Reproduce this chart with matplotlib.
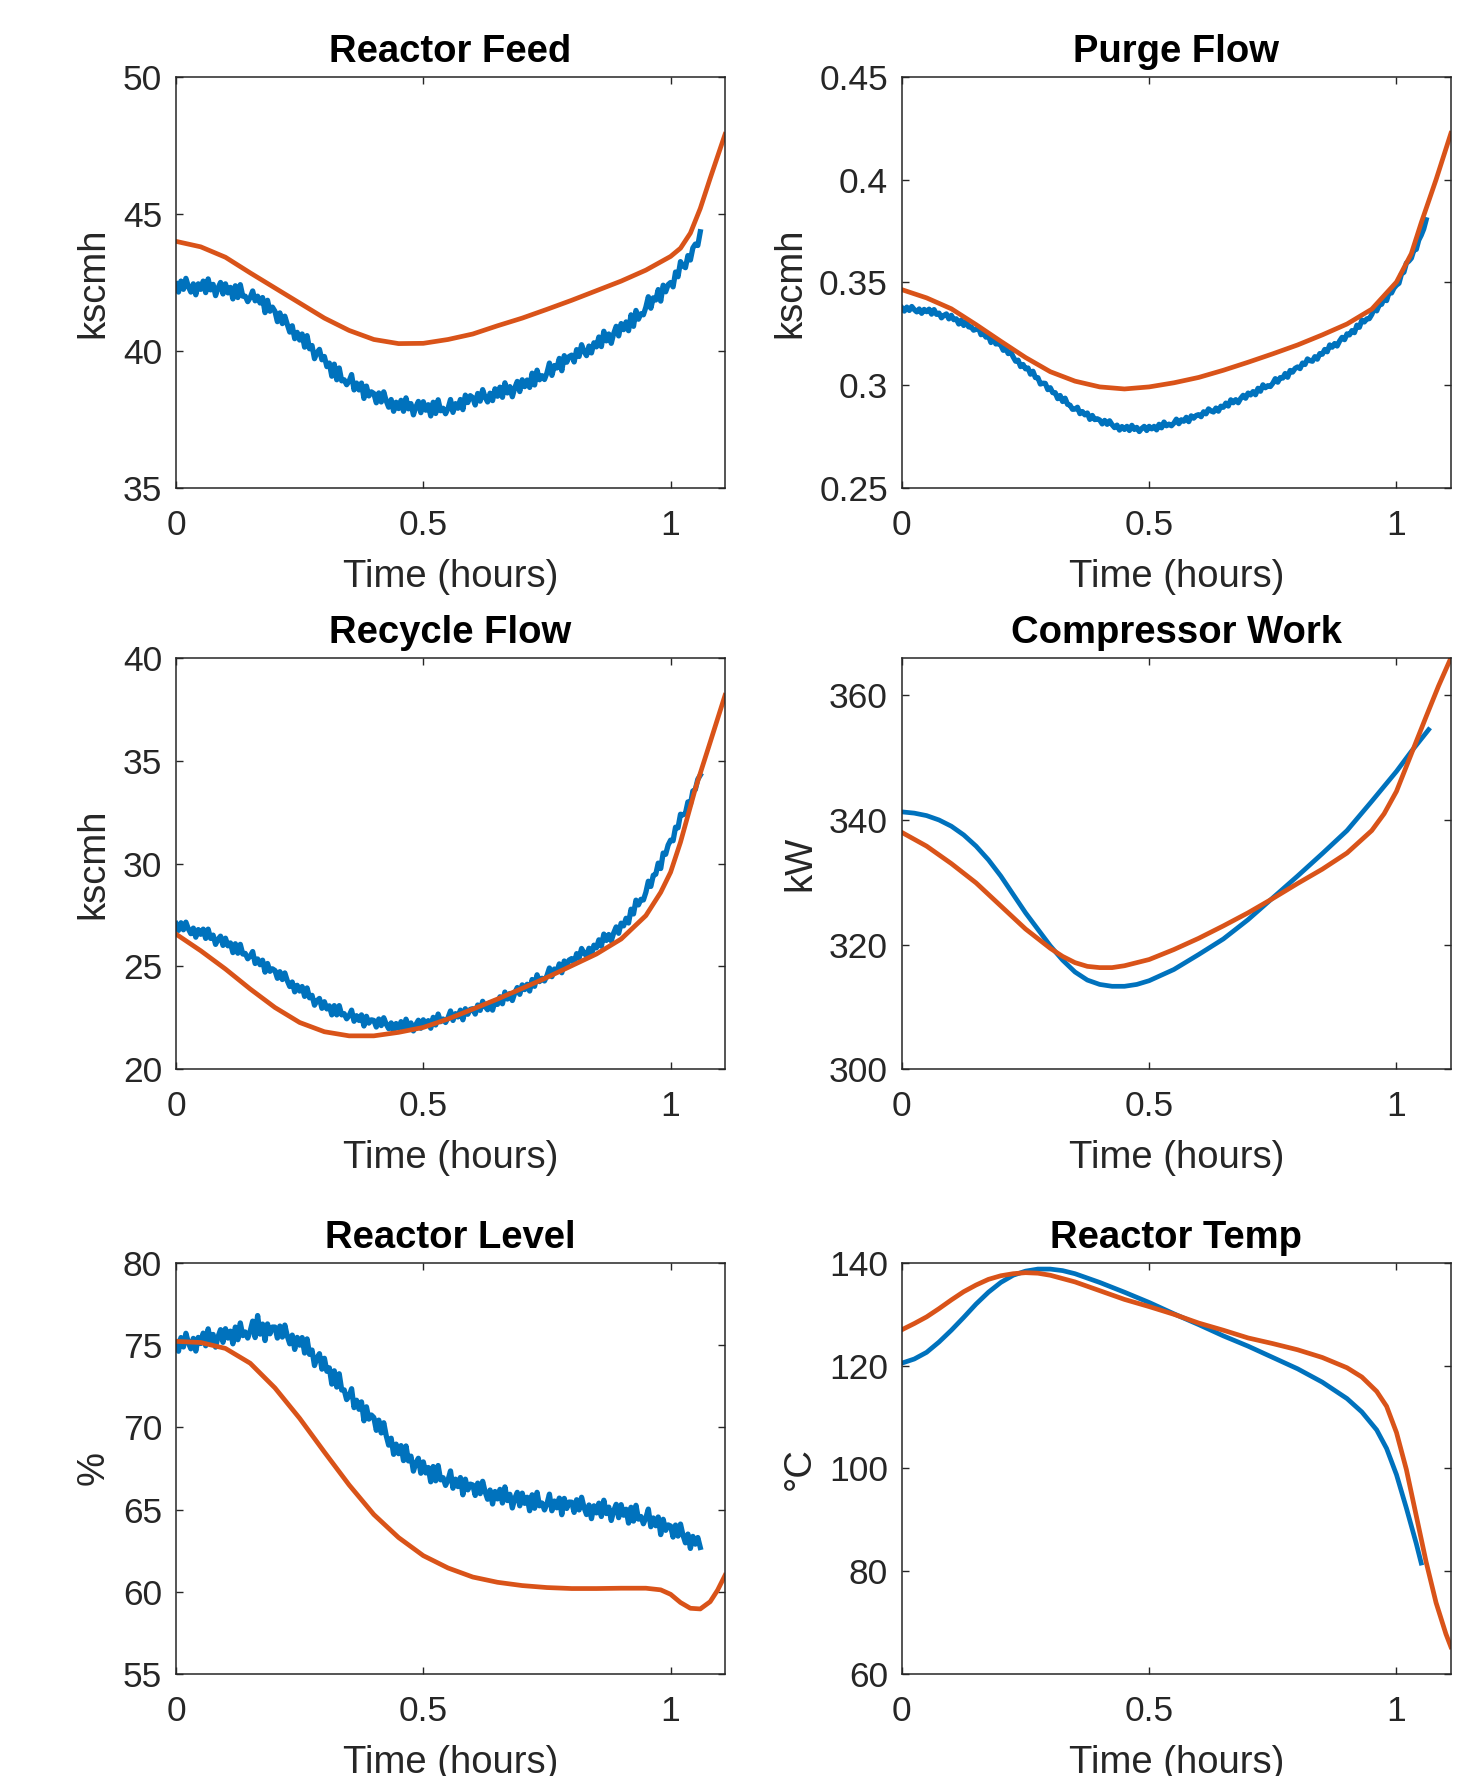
import numpy as np
import matplotlib.pyplot as plt

OUTPUT_PATH = "out.png"

BLUE = "#0072BD"
ORANGE = "#D95319"
TEXT = "#262626"

# measured (blue) series sampled every 0.005 h from 0 to 1.06 h
t_meas = np.round(np.arange(213) * 0.005, 3)

feed_meas = [
    42.45, 42.15, 42.55, 42.25, 42.65, 42.35, 42.15, 42.45, 42.05, 42.45,
    42.25, 42.55, 42.13, 42.63, 42.23, 42.43, 42.02, 42.30, 42.50, 42.08,
    42.45, 42.12, 42.32, 41.90, 42.38, 41.95, 42.42, 42.00, 42.00, 41.80,
    41.95, 42.19, 41.83, 42.00, 41.75, 41.95, 41.40, 41.85, 41.45, 41.60,
    41.45, 41.07, 41.39, 41.00, 41.27, 40.97, 40.69, 40.92, 40.45, 40.68,
    40.40, 40.62, 40.14, 40.56, 40.08, 40.20, 39.72, 39.94, 40.06, 39.68,
    39.80, 39.43, 39.56, 39.08, 39.52, 38.95, 39.38, 38.91, 38.95, 38.77,
    38.90, 39.14, 38.58, 38.83, 38.58, 38.83, 38.27, 38.72, 38.36, 38.51,
    38.45, 38.11, 38.47, 38.14, 38.51, 38.18, 37.95, 38.23, 37.80, 38.13,
    37.90, 38.20, 37.80, 38.29, 37.89, 38.08, 37.67, 37.96, 38.16, 37.75,
    38.15, 37.84, 38.04, 37.63, 38.13, 37.72, 38.22, 37.82, 37.91, 37.71,
    37.90, 38.23, 37.76, 38.08, 37.91, 38.23, 37.86, 38.39, 38.12, 38.37,
    38.30, 38.03, 38.45, 38.17, 38.59, 38.31, 38.14, 38.46, 38.19, 38.62,
    38.35, 38.68, 38.31, 38.84, 38.47, 38.70, 38.33, 38.66, 38.89, 38.52,
    38.95, 38.70, 38.94, 38.67, 39.19, 38.76, 39.30, 38.95, 39.10, 38.96,
    39.20, 39.56, 39.11, 39.47, 39.38, 39.73, 39.28, 39.83, 39.59, 39.80,
    39.85, 39.60, 40.05, 39.80, 40.23, 39.98, 39.83, 40.18, 39.93, 40.30,
    40.15, 40.51, 40.16, 40.72, 40.37, 40.62, 40.28, 40.64, 40.90, 40.55,
    41.00, 40.78, 41.06, 40.74, 41.32, 40.90, 41.48, 41.16, 41.36, 41.32,
    41.60, 41.98, 41.56, 41.94, 41.86, 42.24, 41.82, 42.40, 42.16, 42.42,
    42.50, 42.34, 42.88, 42.71, 43.26, 43.10, 43.04, 43.48, 43.32, 43.76,
    43.90, 43.85, 44.35,
]

purge_meas = [
    0.3377, 0.3361, 0.3380, 0.3364, 0.3383, 0.3368, 0.3357, 0.3371, 0.3350, 0.3369,
    0.3358, 0.3370, 0.3346, 0.3368, 0.3345, 0.3351, 0.3328, 0.3340, 0.3347, 0.3323,
    0.3340, 0.3319, 0.3323, 0.3298, 0.3317, 0.3291, 0.3310, 0.3284, 0.3284, 0.3268,
    0.3272, 0.3279, 0.3246, 0.3252, 0.3234, 0.3241, 0.3208, 0.3225, 0.3201, 0.3203,
    0.3195, 0.3170, 0.3179, 0.3154, 0.3163, 0.3138, 0.3117, 0.3122, 0.3091, 0.3101,
    0.3080, 0.3084, 0.3054, 0.3068, 0.3037, 0.3037, 0.3006, 0.3010, 0.3009, 0.2979,
    0.2988, 0.2964, 0.2964, 0.2935, 0.2950, 0.2921, 0.2937, 0.2907, 0.2903, 0.2883,
    0.2884, 0.2893, 0.2862, 0.2872, 0.2856, 0.2865, 0.2834, 0.2853, 0.2833, 0.2837,
    0.2831, 0.2812, 0.2829, 0.2810, 0.2827, 0.2808, 0.2794, 0.2806, 0.2782, 0.2799,
    0.2785, 0.2800, 0.2780, 0.2805, 0.2785, 0.2795, 0.2775, 0.2790, 0.2800, 0.2780,
    0.2800, 0.2788, 0.2800, 0.2783, 0.2810, 0.2793, 0.2821, 0.2803, 0.2811, 0.2803,
    0.2816, 0.2835, 0.2813, 0.2832, 0.2825, 0.2844, 0.2823, 0.2851, 0.2840, 0.2853,
    0.2857, 0.2847, 0.2871, 0.2861, 0.2885, 0.2875, 0.2870, 0.2889, 0.2874, 0.2898,
    0.2893, 0.2913, 0.2899, 0.2929, 0.2915, 0.2930, 0.2915, 0.2936, 0.2951, 0.2937,
    0.2962, 0.2953, 0.2969, 0.2954, 0.2985, 0.2971, 0.3002, 0.2988, 0.2998, 0.2994,
    0.3010, 0.3032, 0.3015, 0.3037, 0.3035, 0.3057, 0.3039, 0.3072, 0.3064, 0.3082,
    0.3089, 0.3081, 0.3108, 0.3101, 0.3128, 0.3120, 0.3117, 0.3139, 0.3127, 0.3154,
    0.3151, 0.3174, 0.3163, 0.3196, 0.3185, 0.3203, 0.3191, 0.3215, 0.3233, 0.3222,
    0.3250, 0.3245, 0.3266, 0.3256, 0.3292, 0.3282, 0.3317, 0.3308, 0.3323, 0.3324,
    0.3344, 0.3373, 0.3362, 0.3390, 0.3394, 0.3423, 0.3412, 0.3451, 0.3449, 0.3473,
    0.3487, 0.3496, 0.3541, 0.3550, 0.3594, 0.3604, 0.3618, 0.3657, 0.3661, 0.3706,
    0.3730, 0.3760, 0.3805,
]

recycle_meas = [
    27.08, 26.75, 27.12, 26.78, 27.15, 26.82, 26.59, 26.86, 26.42, 26.79,
    26.56, 26.81, 26.36, 26.81, 26.36, 26.52, 26.07, 26.32, 26.47, 26.02,
    26.37, 26.00, 26.14, 25.67, 26.10, 25.64, 26.07, 25.60, 25.63, 25.37,
    25.50, 25.72, 25.14, 25.36, 25.08, 25.30, 24.72, 25.14, 24.76, 24.88,
    24.80, 24.42, 24.74, 24.36, 24.68, 24.30, 24.02, 24.24, 23.76, 24.08,
    23.80, 24.02, 23.54, 23.95, 23.47, 23.59, 23.11, 23.33, 23.44, 22.96,
    23.28, 22.93, 23.08, 22.64, 23.09, 22.64, 23.09, 22.64, 22.70, 22.45,
    22.60, 22.87, 22.33, 22.60, 22.37, 22.64, 22.10, 22.57, 22.24, 22.40,
    22.37, 22.05, 22.44, 22.12, 22.50, 22.19, 21.97, 22.25, 21.83, 22.22,
    22.00, 22.31, 21.92, 22.43, 22.04, 22.25, 21.86, 22.17, 22.38, 21.99,
    22.40, 22.13, 22.36, 21.99, 22.52, 22.15, 22.68, 22.31, 22.44, 22.27,
    22.50, 22.83, 22.37, 22.70, 22.54, 22.87, 22.40, 22.94, 22.67, 22.91,
    22.94, 22.68, 23.12, 22.86, 23.30, 23.05, 22.89, 23.23, 22.87, 23.31,
    23.15, 23.52, 23.18, 23.75, 23.41, 23.68, 23.34, 23.71, 23.97, 23.64,
    24.10, 23.87, 24.13, 23.80, 24.36, 24.03, 24.59, 24.26, 24.42, 24.29,
    24.55, 24.92, 24.50, 24.87, 24.74, 25.12, 24.69, 25.26, 25.03, 25.31,
    25.38, 25.15, 25.62, 25.40, 25.87, 25.64, 25.51, 25.88, 25.56, 26.03,
    25.90, 26.29, 25.98, 26.57, 26.26, 26.55, 26.24, 26.63, 26.92, 26.61,
    27.10, 26.97, 27.34, 27.11, 27.78, 27.55, 28.22, 27.99, 28.26, 28.23,
    28.60, 29.14, 28.89, 29.43, 29.48, 30.02, 29.76, 30.51, 30.45, 30.90,
    31.14, 31.11, 31.77, 31.74, 32.40, 32.37, 32.44, 33.00, 32.87, 33.53,
    33.60, 34.10, 34.30,
]

level_meas = [
    75.20, 74.63, 75.46, 74.89, 75.72, 75.15, 74.78, 75.41, 74.64, 75.47,
    75.10, 75.73, 74.96, 75.99, 75.22, 75.65, 74.88, 75.51, 75.94, 75.17,
    76.00, 75.43, 75.85, 75.08, 76.10, 75.33, 76.35, 75.58, 75.80, 75.43,
    75.85, 76.46, 75.46, 76.80, 75.67, 76.28, 75.28, 76.29, 75.69, 76.10,
    76.10, 75.43, 76.16, 75.49, 76.22, 75.55, 75.08, 75.61, 74.74, 75.47,
    75.00, 75.46, 74.52, 75.38, 74.44, 74.70, 73.76, 74.22, 74.48, 73.54,
    74.20, 73.41, 73.62, 72.63, 73.44, 72.45, 73.26, 72.27, 72.28, 71.69,
    71.90, 72.35, 71.20, 71.65, 71.10, 71.55, 70.40, 71.25, 70.50, 70.75,
    70.60, 69.82, 70.44, 69.66, 70.28, 69.50, 68.92, 69.34, 68.36, 68.98,
    68.40, 68.89, 67.98, 68.87, 67.96, 68.25, 67.34, 67.83, 68.12, 67.21,
    67.90, 67.23, 67.56, 66.69, 67.62, 66.75, 67.68, 66.81, 66.94, 66.47,
    66.80, 67.35, 66.30, 66.85, 66.40, 66.95, 65.90, 66.85, 66.20, 66.55,
    66.50, 65.86, 66.61, 65.97, 66.72, 66.08, 65.63, 66.19, 65.34, 66.10,
    65.65, 66.23, 65.40, 66.38, 65.55, 65.93, 65.10, 65.68, 66.05, 65.23,
    66.00, 65.38, 65.75, 64.93, 65.90, 65.08, 66.05, 65.23, 65.40, 64.98,
    65.35, 65.94, 64.93, 65.52, 65.11, 65.70, 64.69, 65.68, 65.07, 65.46,
    65.45, 64.83, 65.60, 64.98, 65.75, 65.13, 64.70, 65.28, 64.45, 65.23,
    64.80, 65.39, 64.58, 65.57, 64.76, 65.15, 64.34, 64.93, 65.32, 64.51,
    65.30, 64.66, 65.02, 64.18, 65.14, 64.30, 65.26, 64.42, 64.58, 64.14,
    64.50, 65.03, 63.96, 64.49, 64.02, 64.55, 63.48, 64.41, 63.74, 64.07,
    64.00, 63.33, 64.06, 63.39, 64.12, 63.45, 62.98, 63.51, 62.64, 63.37,
    62.90, 63.30, 62.70,
]

# smoother measured series
t_comp_meas = [0, 0.025, 0.05, 0.075, 0.1, 0.125, 0.15, 0.175, 0.2, 0.25, 0.3, 0.325, 0.35, 0.375, 0.4,
               0.425, 0.45, 0.475, 0.5, 0.55, 0.6, 0.65, 0.7, 0.75, 0.8, 0.85, 0.9, 0.95, 1.0, 1.03, 1.065]
comp_meas = [341.3, 341.1, 340.7, 340.0, 339.0, 337.6, 335.8, 333.6, 331.0, 325.1, 319.8, 317.5, 315.6, 314.3, 313.6,
             313.3, 313.3, 313.6, 314.2, 316.0, 318.4, 320.9, 324.0, 327.5, 331.0, 334.6, 338.3, 343.0, 347.8, 351.0, 354.5]

t_temp_meas = [0, 0.025, 0.05, 0.075, 0.1, 0.125, 0.15, 0.175, 0.2, 0.225, 0.25, 0.275, 0.3, 0.325, 0.35,
               0.4, 0.45, 0.5, 0.55, 0.6, 0.65, 0.7, 0.75, 0.8, 0.85, 0.9, 0.93, 0.96, 0.98, 1.0,
               1.02, 1.04, 1.05]
temp_meas = [120.5, 121.3, 122.6, 124.6, 126.9, 129.4, 132.0, 134.3, 136.2, 137.6, 138.4, 138.8, 138.8, 138.5, 137.9,
             136.2, 134.3, 132.3, 130.1, 128.0, 125.8, 123.8, 121.6, 119.4, 116.8, 113.6, 111.0, 107.5, 103.9, 98.8,
             92.3, 85.4, 81.6]

# model (orange) series
t_feed_mod = [0, 0.05, 0.1, 0.15, 0.2, 0.25, 0.3, 0.35, 0.4, 0.45, 0.5, 0.55, 0.6, 0.65, 0.7,
              0.75, 0.8, 0.85, 0.9, 0.95, 0.98, 1.0, 1.02, 1.04, 1.06, 1.08, 1.11]
feed_mod = [44.0, 43.8, 43.42, 42.85, 42.3, 41.75, 41.2, 40.75, 40.42, 40.27, 40.28, 40.42, 40.62, 40.92, 41.2,
            41.52, 41.85, 42.2, 42.55, 42.95, 43.25, 43.45, 43.75, 44.3, 45.2, 46.3, 47.9]

t_purge_mod = [0, 0.05, 0.1, 0.15, 0.2, 0.25, 0.3, 0.35, 0.4, 0.45, 0.5, 0.55, 0.6, 0.65, 0.7,
               0.75, 0.8, 0.85, 0.9, 0.95, 1.0, 1.03, 1.05, 1.08, 1.11]
purge_mod = [0.3465, 0.3425, 0.3372, 0.3295, 0.3214, 0.3135, 0.3066, 0.302, 0.2992, 0.2982, 0.2992, 0.3012,
             0.3038, 0.3073, 0.3112, 0.3153, 0.3196, 0.3245, 0.3298, 0.337, 0.3502, 0.364, 0.379, 0.40, 0.4225]

t_recycle_mod = [0, 0.05, 0.1, 0.15, 0.2, 0.25, 0.3, 0.35, 0.4, 0.45, 0.5, 0.55, 0.6, 0.65, 0.7,
                 0.75, 0.8, 0.85, 0.9, 0.95, 0.98, 1.0, 1.02, 1.05, 1.08, 1.11]
recycle_mod = [26.57, 25.76, 24.87, 23.9, 23.0, 22.27, 21.82, 21.62, 21.62, 21.79, 22.03, 22.44, 22.92, 23.41, 23.93,
               24.46, 25.03, 25.6, 26.33, 27.47, 28.6, 29.58, 31.04, 33.64, 35.9, 38.18]

t_comp_mod = [0, 0.05, 0.1, 0.15, 0.2, 0.25, 0.3, 0.325, 0.35, 0.375, 0.4, 0.425, 0.45, 0.5, 0.55,
              0.6, 0.65, 0.7, 0.75, 0.8, 0.85, 0.9, 0.95, 0.975, 1.0, 1.03, 1.06, 1.085, 1.11]
comp_mod = [338.0, 335.8, 333.0, 329.9, 326.2, 322.5, 319.4, 318.1, 317.1, 316.5, 316.3, 316.3, 316.6, 317.6, 319.2,
            321.0, 323.0, 325.1, 327.4, 329.8, 332.1, 334.7, 338.3, 341.0, 344.6, 350.6, 356.6, 361.5, 366.0]

t_level_mod = [0, 0.05, 0.1, 0.15, 0.2, 0.25, 0.3, 0.35, 0.4, 0.45, 0.5, 0.55, 0.6, 0.65, 0.7,
               0.75, 0.8, 0.85, 0.9, 0.95, 0.98, 1.0, 1.02, 1.04, 1.06, 1.08, 1.095, 1.11]
level_mod = [75.23, 75.16, 74.8, 73.9, 72.4, 70.55, 68.5, 66.5, 64.7, 63.3, 62.2, 61.45, 60.9, 60.58, 60.38,
             60.26, 60.2, 60.2, 60.22, 60.22, 60.12, 59.85, 59.35, 59.0, 58.96, 59.4, 60.1, 61.0]

t_temp_mod = [0, 0.025, 0.05, 0.075, 0.1, 0.125, 0.15, 0.175, 0.2, 0.225, 0.25, 0.275, 0.3, 0.35, 0.4,
              0.45, 0.5, 0.55, 0.6, 0.65, 0.7, 0.75, 0.8, 0.85, 0.9, 0.93, 0.96, 0.98, 1.0, 1.02,
              1.04, 1.06, 1.08, 1.1, 1.11]
temp_mod = [127.0, 128.2, 129.5, 131.1, 132.8, 134.4, 135.7, 136.8, 137.5, 137.9, 138.1, 138.0, 137.6, 136.3, 134.6,
            132.9, 131.5, 130.0, 128.3, 126.9, 125.4, 124.3, 123.1, 121.6, 119.6, 117.8, 115.0, 112.1, 107.0, 99.8,
            90.8, 81.8, 73.9, 67.8, 65.3]

panels = [
    ("Reactor Feed", "kscmh", (t_meas, feed_meas), (t_feed_mod, feed_mod),
     (35, 50), [35, 40, 45, 50], ["35", "40", "45", "50"]),
    ("Purge Flow", "kscmh", (t_meas, purge_meas), (t_purge_mod, purge_mod),
     (0.25, 0.45), [0.25, 0.3, 0.35, 0.4, 0.45], ["0.25", "0.3", "0.35", "0.4", "0.45"]),
    ("Recycle Flow", "kscmh", (t_meas, recycle_meas), (t_recycle_mod, recycle_mod),
     (20, 40), [20, 25, 30, 35, 40], ["20", "25", "30", "35", "40"]),
    ("Compressor Work", "kW", (t_comp_meas, comp_meas), (t_comp_mod, comp_mod),
     (300, 366.0), [300, 320, 340, 360], ["300", "320", "340", "360"]),
    ("Reactor Level", "%", (t_meas, level_meas), (t_level_mod, level_mod),
     (55, 80), [55, 60, 65, 70, 75, 80], ["55", "60", "65", "70", "75", "80"]),
    ("Reactor Temp", "°C", (t_temp_meas, temp_meas), (t_temp_mod, temp_mod),
     (60, 140), [60, 80, 100, 120, 140], ["60", "80", "100", "120", "140"]),
]

plt.rcParams["font.family"] = ["Liberation Sans", "DejaVu Sans"]

fig = plt.figure(figsize=(14.57, 17.76), dpi=100)

lefts = [0.1208, 0.619]
bottoms = [0.7252, 0.398, 0.0574]
w, h = 0.3768, 0.2315

for i, (title, ylabel, meas, mod, ylim, yticks, ylabels) in enumerate(panels):
    ax = fig.add_axes([lefts[i % 2], bottoms[i // 2], w, h])
    noisy = len(meas[1]) > 100
    ax.plot(meas[0], meas[1], color=BLUE, lw=3.8 if noisy else 3.4)
    ax.plot(mod[0], mod[1], color=ORANGE, lw=3.4)
    ax.set_xlim(0, 1.11)
    ax.set_ylim(*ylim)
    ax.set_xticks([0, 0.5, 1])
    ax.set_xticklabels(["0", "0.5", "1"])
    ax.set_yticks(yticks)
    ax.set_yticklabels(ylabels)
    ax.tick_params(direction="in", length=5, width=1, top=True, right=True,
                   labelsize=25.5, colors=TEXT)
    ax.tick_params(axis="x", pad=15)
    ax.tick_params(axis="y", pad=10)
    for s in ax.spines.values():
        s.set_color(TEXT)
        s.set_linewidth(1.1)
    ax.set_title(title, fontsize=27.5, fontweight="bold", color="black", pad=11)
    ax.set_xlabel("Time (hours)", fontsize=27.5, color=TEXT, labelpad=12)
    ax.set_ylabel(ylabel, fontsize=27.5, color=TEXT, labelpad=8)

fig.savefig(OUTPUT_PATH, dpi=100)
plt.close(fig)
print(f"Saved: {OUTPUT_PATH}")
